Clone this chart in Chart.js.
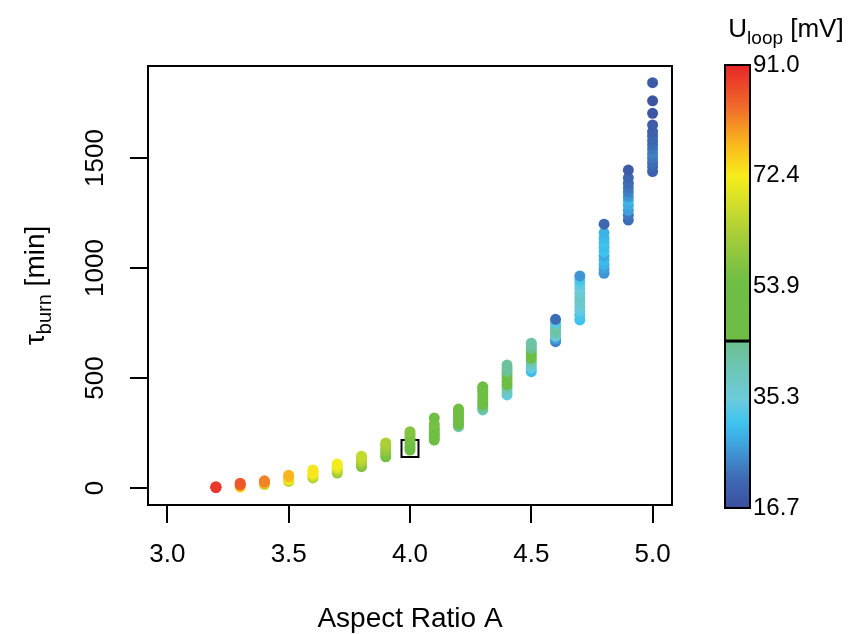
<!DOCTYPE html>
<html>
<head>
<meta charset="utf-8">
<script src="https://cdn.jsdelivr.net/npm/chart.js@4"></script>
<style>
  html, body { margin: 0; padding: 0; background: #fff; }
</style>
</head>
<body>
<canvas id="scan" width="849" height="634"></canvas>
<script>
// aspect ratio scan, one column of points per aspect ratio
const aspectRatios = [3.2, 3.3, 3.4, 3.5, 3.6, 3.7, 3.8, 3.9, 4.0, 4.1, 4.2, 4.3, 4.4, 4.5, 4.6, 4.7, 4.8, 4.9, 5.0];

const tauBurn = [
    [2, 4, 6],
    [4, 10, 16, 22],
    [16, 22, 28, 33],
    [30, 40, 50, 58],
    [46, 56, 66, 76, 82],
    [68, 78, 88, 98, 109],
    [97, 108, 120, 132, 145],
    [142, 155, 168, 182, 195, 205],
    [173, 185, 200, 215, 230, 245, 256],
    [218, 228, 240, 252, 264, 275, 290, 318],
    [279, 290, 302, 315, 328, 340, 352, 359],
    [355, 366, 380, 395, 410, 425, 440, 452, 460],
    [423, 438, 455, 470, 485, 500, 515, 530, 545, 559],
    [529, 545, 560, 575, 590, 605, 620, 635, 648, 658],
    [665, 678, 690, 702, 715, 728, 740, 752, 767],
    [764, 785, 805, 825, 845, 865, 885, 905, 925, 945, 964],
    [976, 995, 1015, 1035, 1055, 1075, 1095, 1115, 1135, 1160, 1199],
    [1218, 1240, 1262, 1285, 1305, 1325, 1345, 1365, 1385, 1410, 1445],
    [1438, 1460, 1480, 1500, 1520, 1540, 1560, 1580, 1600, 1620, 1650, 1703, 1760, 1842]
];

const uLoop = [
    [91, 90, 89],
    [74, 80, 85, 86],
    [66, 78, 82, 82],
    [66, 72, 77, 78],
    [64, 68, 72, 73, 73],
    [60, 64, 68, 71, 72],
    [57, 60, 63, 65, 66],
    [55, 57, 59, 61, 62, 63],
    [52, 53, 54, 55, 56, 57, 58],
    [47, 50, 52, 53, 54, 55, 56, 55],
    [42, 46, 49, 51, 52, 53, 54, 54],
    [40, 44, 47, 49, 50, 51, 52, 52, 52],
    [34, 38, 41, 46, 48, 50, 49, 44, 43, 43],
    [30, 34, 38, 41, 46, 50, 48, 44, 43, 42],
    [24, 27, 36, 40, 42, 42, 40, 33, 22],
    [31, 32, 34, 36, 37, 38, 36, 35, 34, 32, 26],
    [26, 27, 29, 30, 28, 31, 30, 31, 30, 29, 21],
    [22, 23, 27, 28, 29, 26, 24, 23, 22, 21, 19],
    [20, 21, 22, 23, 24, 23, 22, 21, 21, 20, 19, 18, 18, 19]
];

// reference design point (square)
const refPoint = { x: 4.0, y: 180 };

const xTicks = [3.0, 3.5, 4.0, 4.5, 5.0];
const yTicks = [0, 500, 1000, 1500];

const uMin = 16.7, uMax = 91.0;
const uTicks = ["16.7", "35.3", "53.9", "72.4", "91.0"];
const uMark = 44.7;

// colour scale: [U value, colour]
const palette = [
    [16.7, "#3b4e9e"], [22, "#3f6db5"], [28, "#3fa9e2"], [31, "#3ec3ef"],
    [35, "#6dcbdc"], [40, "#6cc6b6"], [44.6, "#6cc08e"], [44.7, "#6dbd45"],
    [55, "#70be44"], [62, "#a4cc3a"], [72.4, "#f7ec1b"], [78, "#f9b51e"],
    [84, "#f06a2a"], [91, "#e8262a"]
];

function hex2rgb(h) {
    return [1, 3, 5].map(i => parseInt(h.substr(i, 2), 16));
}

function uColor(u) {
    if (u <= palette[0][0]) return palette[0][1];
    for (let i = 1; i < palette.length; i++) {
        if (u <= palette[i][0]) {
            const [u0, c0] = palette[i - 1], [u1, c1] = palette[i];
            const t = (u - u0) / (u1 - u0);
            const a = hex2rgb(c0), b = hex2rgb(c1);
            const m = a.map((v, k) => Math.round(v + (b[k] - v) * t));
            return "rgb(" + m.join(",") + ")";
        }
    }
    return palette[palette.length - 1][1];
}

const points = [], colors = [];
aspectRatios.forEach((a, i) => {
    tauBurn[i].forEach((t, j) => {
        points.push({ x: a, y: t });
        colors.push(uColor(uLoop[i][j]));
    });
});

const FONT = "'Liberation Sans', Arial, Helvetica, sans-serif";
const box = { left: 148, right: 672, top: 66, bottom: 505 };
const cbar = { left: 725, right: 750, top: 65, bottom: 508 };

function subText(ctx, main, sub, rest, size) {
    // draws "main_sub rest" centred on (0,0)
    ctx.font = size + "px " + FONT;
    const w1 = ctx.measureText(main).width;
    const w3 = ctx.measureText(rest).width;
    ctx.font = Math.round(size * 0.72) + "px " + FONT;
    const w2 = ctx.measureText(sub).width;
    let x = -(w1 + w2 + w3) / 2;
    ctx.textAlign = "left";
    ctx.textBaseline = "alphabetic";
    ctx.font = size + "px " + FONT;
    ctx.fillText(main, x, size * 0.35);
    x += w1;
    ctx.font = Math.round(size * 0.72) + "px " + FONT;
    ctx.fillText(sub, x, size * 0.35 + size * 0.25);
    x += w2;
    ctx.font = size + "px " + FONT;
    ctx.fillText(rest, x, size * 0.35);
}

const decorations = {
    id: "decorations",
    afterDraw(chart) {
        const ctx = chart.ctx;
        const area = chart.chartArea;
        const ys = chart.scales.y;
        ctx.save();
        ctx.strokeStyle = "#000";
        ctx.fillStyle = "#000";
        ctx.lineWidth = 2;
        ctx.strokeRect(area.left, area.top, area.right - area.left, area.bottom - area.top);

        // y tick labels, rotated like base R
        ctx.font = "26px " + FONT;
        ctx.textAlign = "center";
        ctx.textBaseline = "middle";
        ys.ticks.forEach(t => {
            const py = ys.getPixelForValue(t.value);
            ctx.save();
            ctx.translate(96, py);
            ctx.rotate(-Math.PI / 2);
            ctx.fillText(String(t.value), 0, 0);
            ctx.restore();
        });

        // axis titles
        ctx.save();
        ctx.translate(34, (area.top + area.bottom) / 2);
        ctx.rotate(-Math.PI / 2);
        subText(ctx, "\u03c4", "burn", " [min]", 28);
        ctx.restore();

        ctx.font = "28px " + FONT;
        ctx.textAlign = "center";
        ctx.textBaseline = "middle";
        ctx.fillText("Aspect Ratio A", (area.left + area.right) / 2, 619);

        // colour bar
        const g = ctx.createLinearGradient(0, cbar.bottom, 0, cbar.top);
        palette.forEach(([u, c]) => g.addColorStop((u - uMin) / (uMax - uMin), c));
        ctx.fillStyle = g;
        ctx.fillRect(cbar.left, cbar.top, cbar.right - cbar.left, cbar.bottom - cbar.top);
        ctx.strokeRect(cbar.left, cbar.top, cbar.right - cbar.left, cbar.bottom - cbar.top);
        const my = cbar.bottom - (uMark - uMin) / (uMax - uMin) * (cbar.bottom - cbar.top);
        ctx.lineWidth = 3;
        ctx.beginPath();
        ctx.moveTo(cbar.left, my);
        ctx.lineTo(cbar.right, my);
        ctx.stroke();

        ctx.fillStyle = "#000";
        ctx.font = "24px " + FONT;
        ctx.textAlign = "left";
        ctx.textBaseline = "middle";
        uTicks.forEach((lab, i) => {
            const py = cbar.bottom - i / (uTicks.length - 1) * (cbar.bottom - cbar.top);
            ctx.fillText(lab, cbar.right + 3, py);
        });

        ctx.save();
        ctx.translate(786, 28);
        subText(ctx, "U", "loop", " [mV]", 26);
        ctx.restore();
        ctx.restore();
    }
};

new Chart(document.getElementById("scan"), {
    type: "scatter",
    data: {
        datasets: [{
            label: "scan",
            data: points,
            backgroundColor: colors,
            borderWidth: 0,
            pointRadius: 5.5,
            pointHoverRadius: 5.5
        }, {
            label: "reference",
            data: [refPoint],
            pointStyle: "rect",
            pointRadius: 12,
            backgroundColor: "rgba(0,0,0,0)",
            borderColor: "#000",
            borderWidth: 2
        }]
    },
    options: {
        responsive: false,
        animation: false,
        devicePixelRatio: 1,
        layout: { padding: { top: box.top, right: 849 - box.right, left: 0, bottom: 0 } },
        plugins: {
            legend: { display: false },
            tooltip: { enabled: false }
        },
        scales: {
            x: {
                type: "linear",
                min: 2.92,
                max: 5.08,
                afterFit: s => { s.height = 634 - box.bottom; },
                afterBuildTicks: s => { s.ticks = xTicks.map(v => ({ value: v })); },
                border: { color: "#000", width: 2 },
                grid: { drawOnChartArea: false, tickLength: 18, color: "#000", lineWidth: 2 },
                ticks: {
                    color: "#000",
                    font: { family: FONT, size: 26 },
                    padding: 16,
                    maxRotation: 0,
                    callback: v => Number(v).toFixed(1)
                }
            },
            y: {
                type: "linear",
                min: -77,
                max: 1918,
                afterFit: s => { s.width = box.left; },
                afterBuildTicks: s => { s.ticks = yTicks.map(v => ({ value: v })); },
                border: { color: "#000", width: 2 },
                grid: { drawOnChartArea: false, tickLength: 18, color: "#000", lineWidth: 2 },
                ticks: { display: false }
            }
        }
    },
    plugins: [decorations]
});
</script>
</body>
</html>
